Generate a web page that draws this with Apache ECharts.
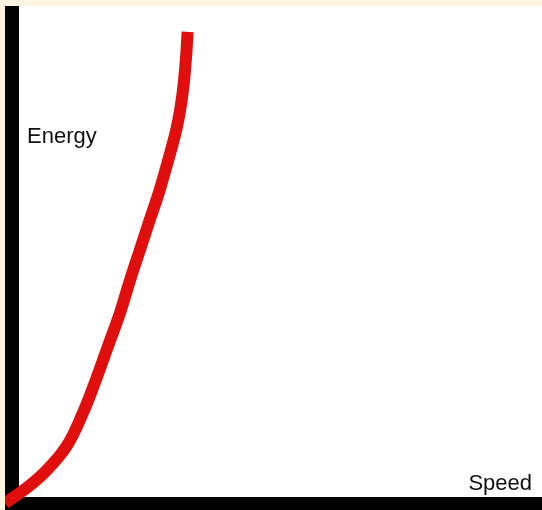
<!DOCTYPE html>
<html>
<head>
<meta charset="utf-8">
<script src="https://cdn.jsdelivr.net/npm/echarts@6/dist/echarts.min.js"></script>
<style>
	html, body { margin: 0; padding: 0; background: #fdf5e0; }
	#main-curve { position: absolute; left: 5px; top: 6px; width: 537px; height: 504px; }
</style>
</head>
<body>
<div id="main-curve"></div>
<script>
// values (arbitrary units, 0..100 on both axes)
const speedData = [0, 3.5, 7.4, 11.4, 14.5, 16.9, 19.2, 21.4, 23.3, 25.3, 27.0, 28.7, 30.5, 32.1, 33.1, 33.7, 34.0];
const energyData = [0, 2.6, 6.2, 11.3, 18.1, 24.7, 31.6, 38.2, 44.9, 51.5, 57.1, 62.6, 69.4, 76.1, 82.7, 89.5, 94.8];
const xName = "Speed";
const yName = "Energy";

var myChart = echarts.init(document.querySelector("#main-curve"));

var points = [];
for (var i = 0; i < speedData.length; i++) {
	points.push([speedData[i], energyData[i]]);
}

var nameFont = {
	fontFamily: "Liberation Sans, Arial, sans-serif",
	fontSize: 22,
	lineHeight: 22,
	color: "#111"
};

var option = {
	animation: false,
	backgroundColor: "#ffffff",
	grid: { left: 0, right: 0, top: 0, bottom: 7 },
	xAxis: {
		type: "value",
		min: 0,
		max: 100,
		name: xName,
		nameLocation: "end",
		nameGap: -10,
		nameTextStyle: Object.assign({ align: "right", verticalAlign: "bottom", padding: [0, 0, 8, 0] }, nameFont),
		axisLine: { onZero: false, lineStyle: { color: "#000", width: 13 } },
		axisTick: { show: false },
		axisLabel: { show: false },
		splitLine: { show: false }
	},
	yAxis: {
		type: "value",
		min: 0,
		max: 100,
		offset: -7,
		name: yName,
		nameLocation: "end",
		nameGap: -131,
		nameTextStyle: Object.assign({ align: "left", verticalAlign: "middle", padding: [0, 0, 0, 15] }, nameFont),
		axisLine: { show: true, onZero: false, lineStyle: { color: "#000", width: 14 } },
		axisTick: { show: false },
		axisLabel: { show: false },
		splitLine: { show: false }
	},
	series: [{
		type: "line",
		data: points,
		smooth: 0.4,
		showSymbol: false,
		clip: false,
		lineStyle: { color: "#e10e0e", width: 12, cap: "butt" }
	}]
};
myChart.setOption(option);
</script>
</body>
</html>
